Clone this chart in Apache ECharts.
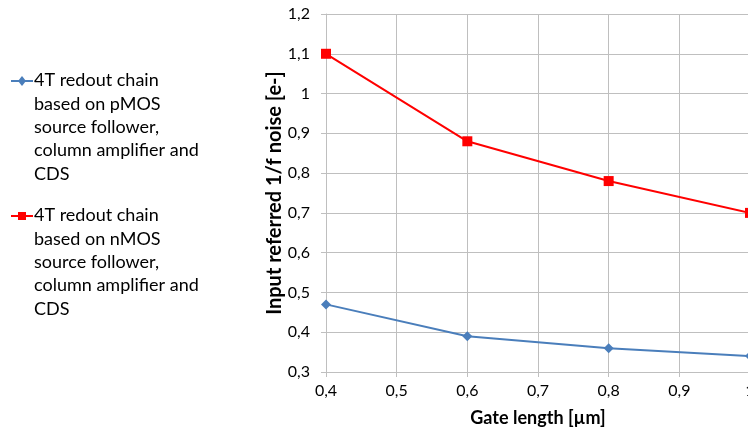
<!DOCTYPE html>
<html>
<head>
<meta charset="utf-8">
<script src="https://cdn.jsdelivr.net/npm/echarts@6/dist/echarts.min.js"></script>
<style>html,body{margin:0;padding:0;background:#fff;}#c{width:748px;height:432px;}</style>
</head>
<body>
<div id="c"></div>
<script>
var gateLength = [0.4, 0.6, 0.8, 1.0];
var pmosNoise = [0.47, 0.39, 0.36, 0.34];
var nmosNoise = [1.10, 0.88, 0.78, 0.70];
var seriesNames = [
  '4T redout chain\nbased on pMOS\nsource follower,\ncolumn amplifier and\nCDS',
  '4T redout chain\nbased on nMOS\nsource follower,\ncolumn amplifier and\nCDS'
];
var xName = 'Gate length [µm]';
var yName = 'Input referred 1/f noise [e-]';
var colors = ['#4a7ebb', '#ff0000'];
var FONT = 'Lato';

function fmt(v){ var s = (Math.round(v*10)/10).toString(); return s.replace('.', ','); }

var chart = echarts.init(document.getElementById('c'));
var gray = '#bfbfbf';
chart.setOption({
  animation: false,
  textStyle: {fontFamily: FONT},
  grid: {left: 326, top: 14, width: 424, height: 358, containLabel: false, outerBoundsMode: 'none'},
  xAxis: {
    type: 'value', min: 0.4, max: 1.0, interval: 0.1,
    name: xName, nameLocation: 'middle', nameGap: 37,
    nameTextStyle: {fontFamily: FONT, fontSize: 18, fontWeight: 'bold', color: '#000'},
    axisLine: {lineStyle: {color: gray, width: 1}},
    axisTick: {show: true, length: 5, lineStyle: {color: gray}},
    splitLine: {show: true, lineStyle: {color: gray, width: 1}},
    axisLabel: {color: '#000', fontSize: 16, margin: 11, formatter: fmt}
  },
  yAxis: {
    type: 'value', min: 0.3, max: 1.2, interval: 0.1,
    name: yName, nameLocation: 'middle', nameGap: 41, nameRotate: 90, nameMoveOverlap: false,
    nameTextStyle: {fontFamily: FONT, fontSize: 20, fontWeight: 'bold', color: '#000'},
    axisLine: {show: true, lineStyle: {color: gray, width: 1}},
    axisTick: {show: true, length: 5, lineStyle: {color: gray}},
    splitLine: {show: true, lineStyle: {color: gray, width: 1}},
    axisLabel: {color: '#000', fontSize: 16, margin: 16, formatter: fmt}
  },
  series: [
    {type: 'line', name: seriesNames[0], data: gateLength.map(function(x,i){return [x, pmosNoise[i]];}),
     symbol: 'diamond', symbolSize: 10, lineStyle: {color: colors[0], width: 2}, itemStyle: {color: colors[0]}},
    {type: 'line', name: seriesNames[1], data: gateLength.map(function(x,i){return [x, nmosNoise[i]];}),
     symbol: 'rect', symbolSize: 10, lineStyle: {color: colors[1], width: 2}, itemStyle: {color: colors[1]}}
  ],
  graphic: (function(){
    var els = [];
    var tops = [81, 216];
    var syms = [
      function(y){ return {type:'polygon', shape:{points:[[22,y-5],[26,y],[22,y+5],[18,y]]}, style:{fill:colors[0]}}; },
      function(y){ return {type:'rect', shape:{x:18,y:y-4,width:8,height:8}, style:{fill:colors[1]}}; }
    ];
    for (var k=0;k<2;k++){
      var y = tops[k];
      els.push({type:'line', shape:{x1:11,y1:y,x2:33,y2:y}, style:{stroke:colors[k], lineWidth:2}});
      els.push(syms[k](y));
      els.push({type:'text', left:34, top:y-12, style:{text:seriesNames[k], font:'18px '+FONT, fill:'#000', lineHeight:23.3}});
    }
    return els;
  })()
});
</script>
</body>
</html>
